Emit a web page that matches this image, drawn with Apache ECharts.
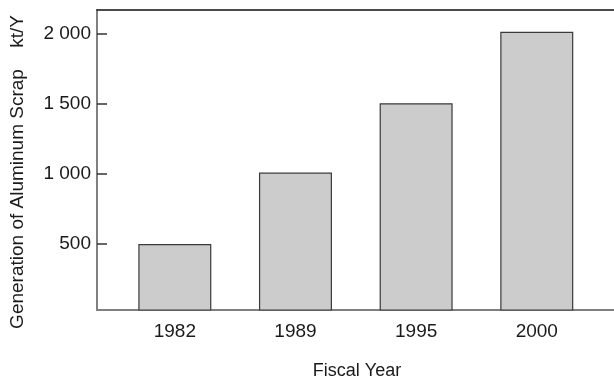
<!DOCTYPE html>
<html>
<head>
<meta charset="utf-8">
<script src="https://cdn.jsdelivr.net/npm/echarts@6/dist/echarts.min.js"></script>
<style>
  html, body { margin: 0; padding: 0; background: #fff; }
  #chart { width: 614px; height: 379px; }
</style>
</head>
<body>
<div id="chart"></div>
<script>
// Aluminum scrap generation by fiscal year (kt/Y)
const years = ['1982', '1989', '1995', '2000'];
const scrapGeneration = [500, 1010, 1505, 2015];
const yTicks = [500, 1000, 1500, 2000];

const FONT = '"Liberation Sans", Arial, Helvetica, sans-serif';

function withThousandsSpace(v) {
  return String(v).replace(/\B(?=(\d{3})+(?!\d))/g, ' ');
}

const chart = echarts.init(document.getElementById('chart'), null, { renderer: 'canvas' });

chart.setOption({
  animation: false,
  backgroundColor: '#ffffff',
  grid: { left: 97, top: 10, right: 0, bottom: 69 },
  xAxis: [
    {
      type: 'value',
      min: -0.645,
      max: 3.64,
      position: 'bottom',
      splitLine: { show: false },
      axisTick: { show: false },
      axisLine: { show: true, onZero: false, lineStyle: { color: '#808080', width: 2 } },
      axisLabel: {
        customValues: years.map((_, i) => i),
        formatter: (v) => years[Math.round(v)],
        fontFamily: FONT,
        fontSize: 19,
        color: '#1a1a1a',
        margin: 12
      }
    },
    {
      type: 'value',
      min: -0.645,
      max: 3.64,
      position: 'top',
      splitLine: { show: false },
      axisTick: { show: false },
      axisLabel: { show: false },
      axisLine: { show: true, onZero: false, lineStyle: { color: '#111', width: 1.5 } }
    }
  ],
  yAxis: {
    type: 'value',
    min: 30,
    max: 2170,
    splitLine: { show: false },
    axisLine: { show: true, onZero: false, lineStyle: { color: '#808080', width: 2 } },
    axisTick: {
      show: true,
      inside: true,
      customValues: yTicks,
      length: 10,
      lineStyle: { color: '#333', width: 1.5 }
    },
    axisLabel: {
      customValues: yTicks,
      formatter: withThousandsSpace,
      fontFamily: FONT,
      fontSize: 19,
      color: '#1a1a1a',
      margin: 6
    }
  },
  series: [
    {
      type: 'bar',
      xAxisIndex: 0,
      barWidth: 73,
      data: scrapGeneration.map((v, i) => [i, v]),
      itemStyle: { color: '#cccccc', borderColor: '#3a3a3a', borderWidth: 1.2 }
    }
  ],
  graphic: [
    {
      type: 'text',
      x: 357, y: 371.5,
      style: {
        text: 'Fiscal Year',
        fontFamily: FONT, fontSize: 18, fill: '#1a1a1a',
        align: 'center', verticalAlign: 'middle'
      }
    },
    {
      type: 'text',
      x: 18, y: 199,
      rotation: Math.PI / 2,
      style: {
        text: 'Generation of Aluminum Scrap',
        fontFamily: FONT, fontSize: 19, fill: '#1a1a1a',
        align: 'center', verticalAlign: 'middle'
      }
    },
    {
      type: 'text',
      x: 18, y: 31.5,
      rotation: Math.PI / 2,
      style: {
        text: 'kt/Y',
        fontFamily: FONT, fontSize: 19, fill: '#1a1a1a',
        align: 'center', verticalAlign: 'middle'
      }
    }
  ]
});
</script>
</body>
</html>
